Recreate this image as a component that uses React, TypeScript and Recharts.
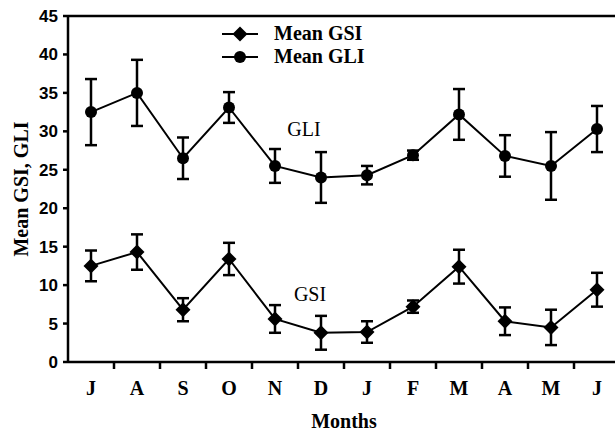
import { LineChart, Line, XAxis, YAxis, ErrorBar, ReferenceLine, ReferenceDot, Legend } from "recharts"

const months = ["Jul", "Aug", "Sep", "Oct", "Nov", "Dec", "Jan", "Feb", "Mar", "Apr", "May", "Jun"]
const monthLetters = ["J", "A", "S", "O", "N", "D", "J", "F", "M", "A", "M", "J"]
const gsiMean = [12.5, 14.3, 6.8, 13.4, 5.6, 3.8, 3.9, 7.2, 12.4, 5.3, 4.5, 9.4]
const gsiErr = [2.0, 2.3, 1.5, 2.1, 1.8, 2.2, 1.4, 0.8, 2.2, 1.8, 2.3, 2.2]
const gliMean = [32.5, 35.0, 26.5, 33.1, 25.5, 24.0, 24.3, 26.9, 32.2, 26.8, 25.5, 30.3]
const gliErr = [4.3, 4.3, 2.7, 2.0, 2.2, 3.3, 1.2, 0.6, 3.3, 2.7, 4.4, 3.0]
const yTicks = [0, 5, 10, 15, 20, 25, 30, 35, 40, 45]

const SERIF = "'Liberation Serif', 'DejaVu Serif', serif"
const SANS = "'Liberation Sans', Arial, sans-serif"

const data = months.map((m, i) => ({
  month: m,
  gsi: gsiMean[i],
  gsiErr: gsiErr[i],
  gli: gliMean[i],
  gliErr: gliErr[i],
}))

const Diamond = (props: any) => {
  const { cx, cy, index } = props
  if (cx == null || cy == null) return <g key={`d-${index}`} />
  const s = 7.5
  return (
    <polygon
      key={`d-${index}`}
      points={`${cx},${cy - s} ${cx + s},${cy} ${cx},${cy + s} ${cx - s},${cy}`}
      fill="#000"
    />
  )
}

const Circle = (props: any) => {
  const { cx, cy, index } = props
  if (cx == null || cy == null) return <g key={`c-${index}`} />
  return <circle key={`c-${index}`} cx={cx} cy={cy} r={6} fill="#000" />
}

// month letter centred in its band, tick mark on the band's right edge
const MonthTick = (props: any) => {
  const { x, y, index } = props
  const half = 23
  return (
    <g>
      <line x1={x + half} x2={x + half} y1={y} y2={y + 7} stroke="#000" strokeWidth={2.5} />
      <text
        x={x}
        y={y + 26}
        textAnchor="middle"
        dominantBaseline="central"
        style={{ fontFamily: SERIF, fontWeight: "bold", fontSize: 20 }}
        fill="#000"
      >
        {monthLetters[index]}
      </text>
    </g>
  )
}

const Annotation = (props: any) => {
  const { viewBox, text, shift } = props
  if (!viewBox) return null
  return (
    <text
      x={viewBox.x + (viewBox.width || 0) / 2 + shift}
      y={viewBox.y + (viewBox.height || 0) / 2}
      textAnchor="middle"
      dominantBaseline="central"
      style={{ fontFamily: SERIF, fontSize: 20 }}
      fill="#000"
    >
      {text}
    </text>
  )
}

const LegendBox = () => {
  const rows = [
    { label: "Mean GSI", shape: "diamond" },
    { label: "Mean GLI", shape: "circle" },
  ]
  return (
    <div style={{ fontFamily: SERIF, fontWeight: "bold", fontSize: 20, color: "#000", lineHeight: "23px" }}>
      {rows.map((r) => (
        <div key={r.label} style={{ display: "flex", alignItems: "center", height: 23 }}>
          <svg width={36} height={18}>
            <line x1={0} x2={36} y1={9} y2={9} stroke="#000" strokeWidth={2} />
            {r.shape === "diamond" ? (
              <polygon points="18,1.5 25.5,9 18,16.5 10.5,9" fill="#000" />
            ) : (
              <circle cx={18} cy={9} r={6} fill="#000" />
            )}
          </svg>
          <span style={{ marginLeft: 16 }}>{r.label}</span>
        </div>
      ))}
    </div>
  )
}

export default function App() {
  return (
    <div style={{ position: "absolute", left: 0, top: 0, width: 615, height: 432, overflow: "hidden", background: "#fff" }}>
      <LineChart width={625} height={432} data={data} margin={{ top: 16, right: 5, left: 0, bottom: 10 }}>
        <XAxis
          dataKey="month"
          stroke="#000"
          strokeWidth={2.5}
          tickLine={false}
          tickSize={0}
          tickMargin={0}
          height={60}
          interval={0}
          padding={{ left: 23, right: 23 }}
          tick={<MonthTick />}
          label={(p: any) => (
            <text
              x={p.viewBox.x + p.viewBox.width / 2}
              y={p.viewBox.y + 59}
              textAnchor="middle"
              dominantBaseline="central"
              style={{ fontFamily: SERIF, fontWeight: "bold", fontSize: 20 }}
              fill="#000"
            >
              Months
            </text>
          )}
        />
        <YAxis
          domain={[0, 45]}
          ticks={yTicks}
          interval={0}
          width={68}
          stroke="#000"
          strokeWidth={2.5}
          tickSize={5}
          tickMargin={5}
          tick={{ fill: "#000", style: { fontFamily: SANS, fontWeight: "bold", fontSize: 17 } }}
          label={{
            value: "Mean GSI, GLI",
            angle: -90,
            position: "insideLeft",
            offset: 21,
            style: { textAnchor: "middle", fontFamily: SERIF, fontWeight: "bold", fontSize: 20, fill: "#000" },
          }}
        />
        <ReferenceLine y={45} stroke="#000" strokeWidth={2.5} />
        <Legend
          layout="vertical"
          align="center"
          verticalAlign="middle"
          wrapperStyle={{ position: "absolute", left: 222, top: 22, width: 220 }}
          content={<LegendBox />}
        />
        <Line
          dataKey="gsi"
          stroke="#000"
          strokeWidth={2}
          dot={<Diamond />}
          activeDot={false}
          isAnimationActive={false}
        >
          <ErrorBar dataKey="gsiErr" direction="y" width={6} stroke="#000" strokeWidth={2.5} isAnimationActive={false} />
        </Line>
        <Line
          dataKey="gli"
          stroke="#000"
          strokeWidth={2}
          dot={<Circle />}
          activeDot={false}
          isAnimationActive={false}
        >
          <ErrorBar dataKey="gliErr" direction="y" width={6} stroke="#000" strokeWidth={2.5} isAnimationActive={false} />
        </Line>
        <ReferenceDot x="Dec" y={30.3} r={0} stroke="none" fill="none" label={<Annotation text="GLI" shift={-17} />} />
        <ReferenceDot x="Dec" y={8.8} r={0} stroke="none" fill="none" label={<Annotation text="GSI" shift={-11} />} />
      </LineChart>
    </div>
  )
}
